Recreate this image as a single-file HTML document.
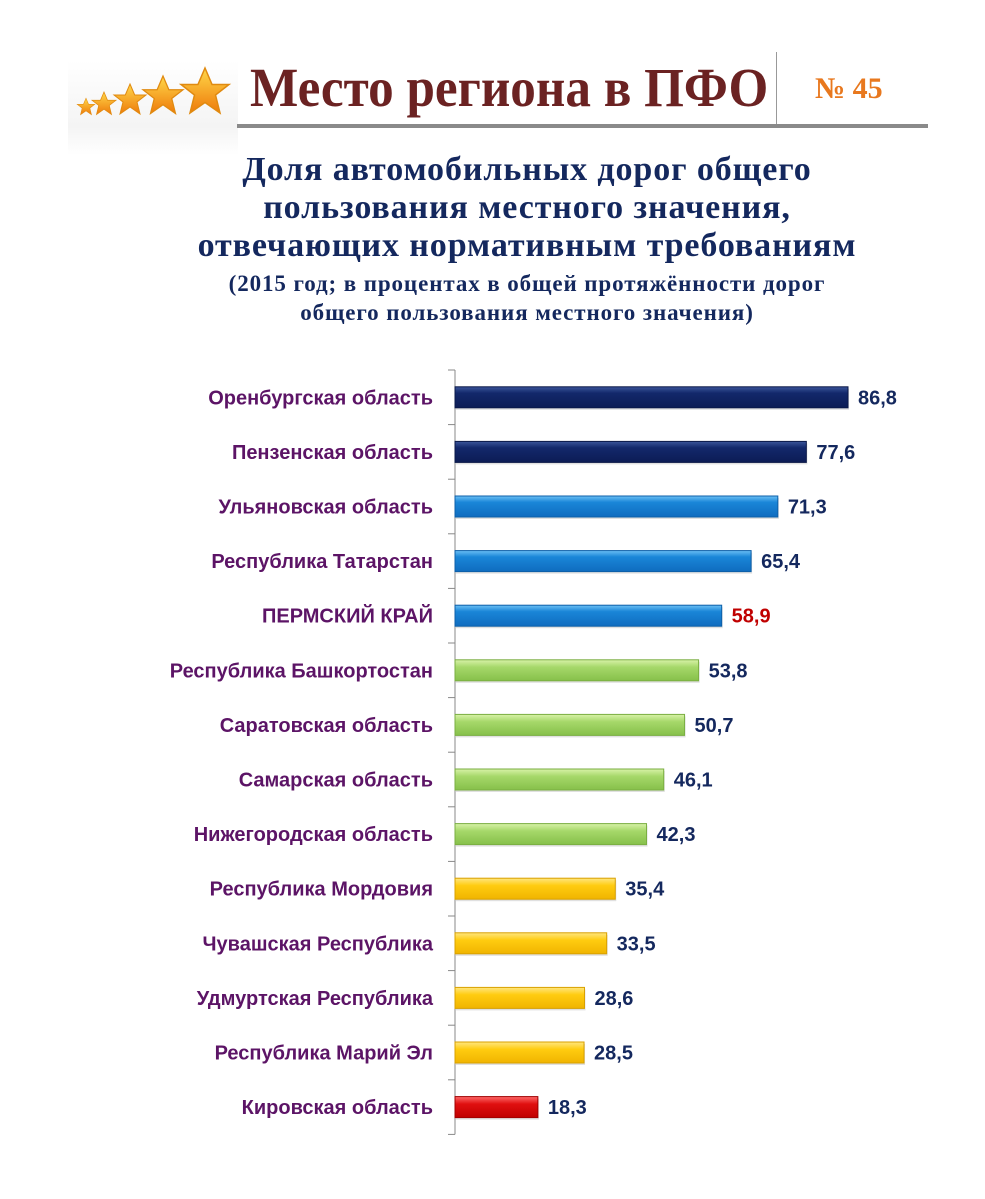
<!DOCTYPE html>
<html><head><meta charset="utf-8"><style>
body{margin:0;width:985px;height:1199px;background:#fff;position:relative;overflow:hidden;font-family:"Liberation Serif",serif}
.t{position:absolute;white-space:nowrap}
</style></head><body>
<div style="position:absolute;left:68px;top:60px;width:170px;height:95px;background:linear-gradient(#fff,#f4f4f4 70%,#fff)">
<svg width="170" height="70" viewBox="0 0 170 70">
<defs><linearGradient id="sg" x1="0" y1="0" x2="0" y2="1"><stop offset="0" stop-color="#ffd84a"/><stop offset="1" stop-color="#ee7a0a"/></linearGradient></defs>
<g fill="url(#sg)" stroke="#e08a10" stroke-width="1">
<polygon transform="translate(18,47) scale(0.55)" points="0,-16 4.7,-5 16,-5 7,2 10,14 0,7 -10,14 -7,2 -16,-5 -4.7,-5"/>
<polygon transform="translate(36,44) scale(0.75)" points="0,-16 4.7,-5 16,-5 7,2 10,14 0,7 -10,14 -7,2 -16,-5 -4.7,-5"/>
<polygon transform="translate(62,40) scale(1)" points="0,-16 4.7,-5 16,-5 7,2 10,14 0,7 -10,14 -7,2 -16,-5 -4.7,-5"/>
<polygon transform="translate(95,36) scale(1.25)" points="0,-16 4.7,-5 16,-5 7,2 10,14 0,7 -10,14 -7,2 -16,-5 -4.7,-5"/>
<polygon transform="translate(137,32) scale(1.5)" points="0,-16 4.7,-5 16,-5 7,2 10,14 0,7 -10,14 -7,2 -16,-5 -4.7,-5"/>
</g></svg></div>
<div class="t" style="left:250px;top:56px;font-size:55px;font-weight:bold;color:#6b2222;transform:scaleX(0.93);transform-origin:left">Место региона в ПФО</div>
<div style="position:absolute;left:776px;top:52px;width:1px;height:72px;background:#999"></div>
<div class="t" style="left:815px;top:72px;font-size:30px;font-weight:bold;color:#e8781e">№ 45</div>
<div style="position:absolute;left:237px;top:124px;width:691px;height:4px;background:#8a8a8a"></div>
<div style="position:absolute;left:0;width:1054px;top:151px;text-align:center;color:#14285e;font-weight:bold;font-size:34px;letter-spacing:0.9px;line-height:38px">Доля автомобильных дорог общего<br>пользования местного значения,<br>отвечающих нормативным требованиям</div>
<div style="position:absolute;left:0;width:1054px;top:269px;text-align:center;color:#14285e;font-weight:bold;font-size:23px;letter-spacing:0.9px;line-height:29px">(2015 год; в процентах в общей протяжённости дорог<br>общего пользования местного значения)</div>
<svg id="chart" width="985" height="1199" style="position:absolute;left:0;top:0">
<defs>
<linearGradient id="gNavy" x1="0" y1="0" x2="0" y2="1"><stop offset="0" stop-color="#3a559a"/><stop offset="0.3" stop-color="#13286b"/><stop offset="1" stop-color="#0c1c55"/></linearGradient>
<linearGradient id="gBlue" x1="0" y1="0" x2="0" y2="1"><stop offset="0" stop-color="#6cc0f5"/><stop offset="0.3" stop-color="#1a86d8"/><stop offset="1" stop-color="#0f6cbf"/></linearGradient>
<linearGradient id="gGreen" x1="0" y1="0" x2="0" y2="1"><stop offset="0" stop-color="#d8f2a8"/><stop offset="0.35" stop-color="#a6d86a"/><stop offset="1" stop-color="#86c04a"/></linearGradient>
<linearGradient id="gYellow" x1="0" y1="0" x2="0" y2="1"><stop offset="0" stop-color="#ffe680"/><stop offset="0.35" stop-color="#ffcc10"/><stop offset="1" stop-color="#f0b400"/></linearGradient>
<linearGradient id="gRed" x1="0" y1="0" x2="0" y2="1"><stop offset="0" stop-color="#ff6a6a"/><stop offset="0.35" stop-color="#e01010"/><stop offset="1" stop-color="#c00000"/></linearGradient>
</defs>
</svg>
<script>
const categories=["Оренбургская область","Пензенская область","Ульяновская область","Республика Татарстан","ПЕРМСКИЙ КРАЙ","Республика Башкортостан","Саратовская область","Самарская область","Нижегородская область","Республика Мордовия","Чувашская Республика","Удмуртская Республика","Республика Марий Эл","Кировская область"];
const values=[86.8,77.6,71.3,65.4,58.9,53.8,50.7,46.1,42.3,35.4,33.5,28.6,28.5,18.3];
const labels=["86,8","77,6","71,3","65,4","58,9","53,8","50,7","46,1","42,3","35,4","33,5","28,6","28,5","18,3"];
const groups=["navy","navy","blue","blue","blue","green","green","green","green","yellow","yellow","yellow","yellow","red"];
const NS="http://www.w3.org/2000/svg";
const svg=document.getElementById('chart');
const x0=455, scale=393/86.8, top0=370, step=54.6, barH=21;
const xf=v=>x0+v*scale;
const yf=i=>top0+i*step+step/2;
const fills={navy:"url(#gNavy)",blue:"url(#gBlue)",green:"url(#gGreen)",yellow:"url(#gYellow)",red:"url(#gRed)"};
const strokes={navy:"#0a1848",blue:"#0d5fa8",green:"#7aae42",yellow:"#d8a000",red:"#a00000"};
function mk(t,a){const e=document.createElementNS(NS,t);for(const k in a)e.setAttribute(k,a[k]);svg.appendChild(e);return e;}
const ax=mk('line',{x1:x0,y1:top0,x2:x0,y2:top0+categories.length*step,stroke:'#888','stroke-width':1});


for(let i=0;i<=categories.length;i++){
 const tk=mk('line',{x1:x0-7,y1:top0+i*step,x2:x0,y2:top0+i*step,stroke:'#888','stroke-width':1});
 
 
}
categories.forEach((c,i)=>{
 const y=yf(i);
 const sh=mk('rect',{x:x0+1,y:y-barH/2+2,width:xf(values[i])-x0,height:barH,fill:'#000',opacity:0.12});
 
 
 const r=mk('rect',{x:x0,y:y-barH/2,width:xf(values[i])-x0,height:barH,fill:fills[groups[i]],stroke:strokes[groups[i]],'stroke-width':1});
 
 
 const lt=mk('text',{x:433,y:y+7,'text-anchor':'end','font-family':'Liberation Sans, sans-serif','font-weight':'bold','font-size':20,fill:'#5c1466'});
 lt.textContent=c;
 
 
 const vt=mk('text',{x:xf(values[i])+10,y:y+7,'font-family':'Liberation Sans, sans-serif','font-weight':'bold','font-size':20,fill:i===4?'#c00000':'#14285e'});
 vt.textContent=labels[i];
 
 
});
</script>
</body></html>
